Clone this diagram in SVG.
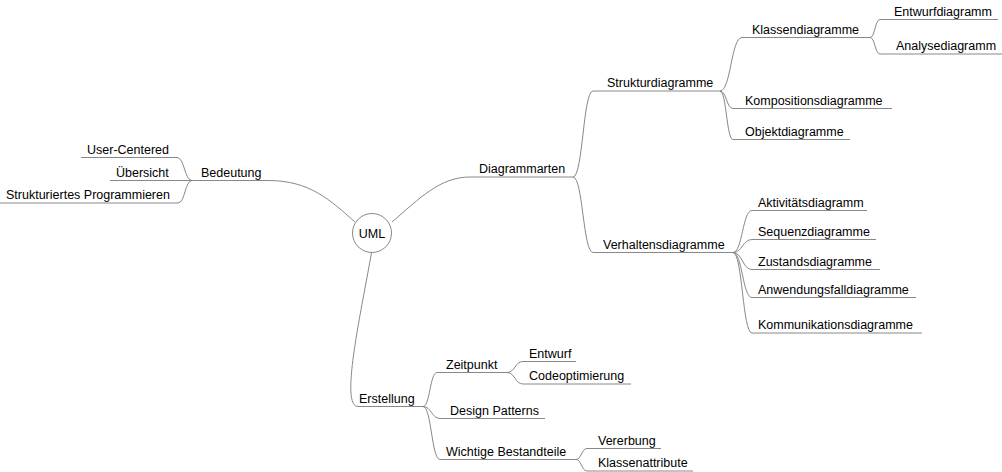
<svg xmlns="http://www.w3.org/2000/svg" width="1002" height="472" viewBox="0 0 1002 472">
<style>
text{font-family:"Liberation Sans",Arial,sans-serif;font-size:12.5px;fill:#000}
.l{fill:none;stroke:#888;stroke-width:1}
.c{fill:none;stroke:#888;stroke-width:1}
</style>
<rect width="1002" height="472" fill="#fff"/>
<g id="connectors">
<path class="c" d="M268,180.5 C310,180.5 330,200 355,222"/>
<path class="c" d="M392,222 C420,198 440,177 470,177"/>
<path class="c" d="M371.5,252.5 C360,318 340,406.5 358,406.5"/>
<path class="c" d="M192,180.5 C184.5,180.5 184.5,157.5 177,157.5"/>
<path class="c" d="M192,180.5 C185,180.5 185,203 178,203"/>
<path class="c" d="M573,177 C583,177 583,91 593,91"/>
<path class="c" d="M573,177 C583,177 583,252.5 593,252.5"/>
<path class="c" d="M720,91 C731,91 731,37.5 742,37.5"/>
<path class="c" d="M720,91 C726.5,91 726.5,108.5 733,108.5"/>
<path class="c" d="M720,91 C726.5,91 726.5,139.5 733,139.5"/>
<path class="c" d="M870,37.5 C875,37.5 875,19.5 880,19.5"/>
<path class="c" d="M870,37.5 C875,37.5 875,54 880,54"/>
<path class="c" d="M733,252.5 C742.5,252.5 742.5,210.5 752,210.5"/>
<path class="c" d="M733,252.5 C742.5,252.5 742.5,239.5 752,239.5"/>
<path class="c" d="M733,252.5 C742.5,252.5 742.5,269.5 752,269.5"/>
<path class="c" d="M733,252.5 C742.5,252.5 742.5,297.5 752,297.5"/>
<path class="c" d="M733,252.5 C742.5,252.5 742.5,333 752,333"/>
<path class="c" d="M423,406.5 C430,406.5 430,372.5 437,372.5"/>
<path class="c" d="M423,406.5 C431.5,406.5 431.5,418.5 440,418.5"/>
<path class="c" d="M423,406.5 C431.5,406.5 431.5,459.5 440,459.5"/>
<path class="c" d="M507,372.5 C515,372.5 515,361.5 523,361.5"/>
<path class="c" d="M507,372.5 C515,372.5 515,384 523,384"/>
<path class="c" d="M576,459.5 C581.5,459.5 581.5,448.5 587,448.5"/>
<path class="c" d="M576,459.5 C581.5,459.5 581.5,471 587,471"/>
</g>
<g id="uml"><circle cx="372" cy="233" r="19.5" fill="#fff" stroke="#888"/><text x="372" y="238" text-anchor="middle">UML</text></g>
<g id="bedeutung"><path class="l" d="M192,180.5 H268"/><text x="201" y="176.5">Bedeutung</text></g>
<g id="user-centered"><path class="l" d="M81,157.5 H177"/><text x="87" y="153.5">User-Centered</text></g>
<g id="uebersicht"><path class="l" d="M110,180.5 H192"/><text x="116" y="176.5">Übersicht</text></g>
<g id="strukturiertes"><path class="l" d="M0,203 H178"/><text x="6" y="199">Strukturiertes Programmieren</text></g>
<g id="diagrammarten"><path class="l" d="M470,177 H573"/><text x="479" y="173">Diagrammarten</text></g>
<g id="strukturdiagramme"><path class="l" d="M593,91 H720"/><text x="607" y="87">Strukturdiagramme</text></g>
<g id="klassendiagramme"><path class="l" d="M742,37.5 H870"/><text x="752" y="33.5">Klassendiagramme</text></g>
<g id="entwurfdiagramm"><path class="l" d="M880,19.5 H998"/><text x="894" y="15.5">Entwurfdiagramm</text></g>
<g id="analysediagramm"><path class="l" d="M880,54 H1002"/><text x="896" y="50">Analysediagramm</text></g>
<g id="kompositionsdiagramme"><path class="l" d="M733,108.5 H892"/><text x="745" y="104.5">Kompositionsdiagramme</text></g>
<g id="objektdiagramme"><path class="l" d="M733,139.5 H850"/><text x="745" y="135.5">Objektdiagramme</text></g>
<g id="verhaltensdiagramme"><path class="l" d="M593,252.5 H733"/><text x="603" y="248.5">Verhaltensdiagramme</text></g>
<g id="aktivitaetsdiagramm"><path class="l" d="M752,210.5 H867"/><text x="758" y="206.5">Aktivitätsdiagramm</text></g>
<g id="sequenzdiagramme"><path class="l" d="M752,239.5 H876"/><text x="758" y="235.5">Sequenzdiagramme</text></g>
<g id="zustandsdiagramme"><path class="l" d="M752,269.5 H880"/><text x="758" y="265.5">Zustandsdiagramme</text></g>
<g id="anwendungsfalldiagramme"><path class="l" d="M752,297.5 H916"/><text x="758" y="293.5">Anwendungsfalldiagramme</text></g>
<g id="kommunikationsdiagramme"><path class="l" d="M752,333 H922"/><text x="758" y="329">Kommunikationsdiagramme</text></g>
<g id="erstellung"><path class="l" d="M358,406.5 H423"/><text x="359" y="402.5">Erstellung</text></g>
<g id="zeitpunkt"><path class="l" d="M437,372.5 H507"/><text x="446" y="368.5">Zeitpunkt</text></g>
<g id="entwurf"><path class="l" d="M523,361.5 H576"/><text x="529" y="357.5">Entwurf</text></g>
<g id="codeoptimierung"><path class="l" d="M523,384 H631"/><text x="529" y="380">Codeoptimierung</text></g>
<g id="design-patterns"><path class="l" d="M440,418.5 H545"/><text x="450" y="414.5">Design Patterns</text></g>
<g id="wichtige-bestandteile"><path class="l" d="M440,459.5 H576"/><text x="446" y="455.5">Wichtige Bestandteile</text></g>
<g id="vererbung"><path class="l" d="M587,448.5 H661"/><text x="598" y="444.5">Vererbung</text></g>
<g id="klassenattribute"><path class="l" d="M587,471 H693"/><text x="598" y="467">Klassenattribute</text></g>
</svg>
